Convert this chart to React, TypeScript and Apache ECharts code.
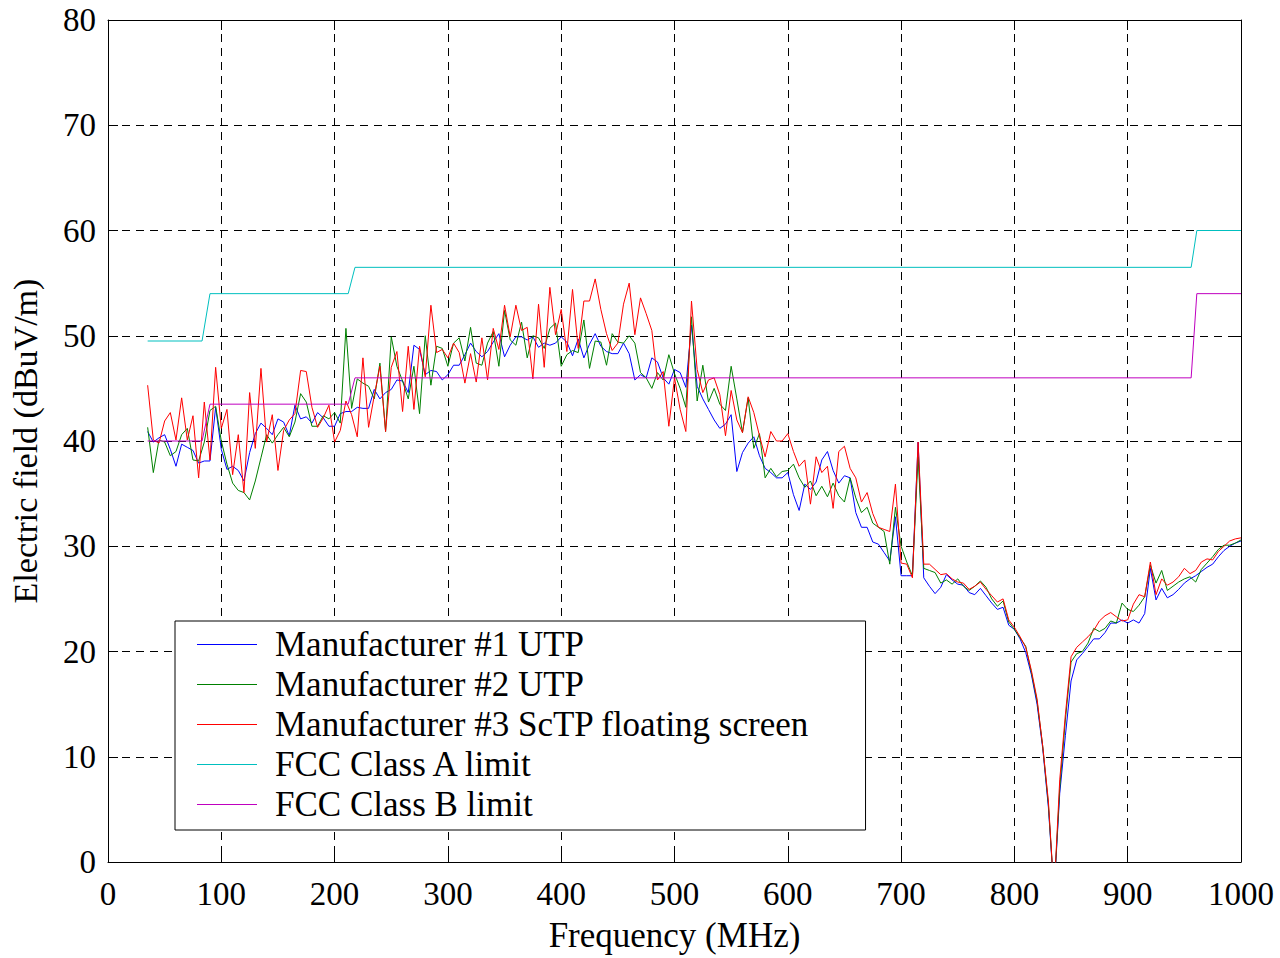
import React, { useEffect, useRef } from "react";
import * as echarts from "echarts";

// Frequency samples (MHz)
const FREQ = [
  35, 40, 45, 50,
  55, 60, 65, 70, 75, 80, 85, 90, 95, 100,
  105, 110, 115, 120, 125, 130, 135, 140, 145, 150,
  155, 160, 165, 170, 175, 180, 185, 190, 195, 200,
  205, 210, 215, 220, 225, 230, 235, 240, 245, 250,
  255, 260, 265, 270, 275, 280, 285, 290, 295, 300,
  305, 310, 315, 320, 325, 330, 335, 340, 345, 350,
  355, 360, 365, 370, 375, 380, 385, 390, 395, 400,
  405, 410, 415, 420, 425, 430, 435, 440, 445, 450,
  455, 460, 465, 470, 475, 480, 485, 490, 495, 500,
  505, 510, 515, 520, 525, 530, 535, 540, 545, 550,
  555, 560, 565, 570, 575, 580, 585, 590, 595, 600,
  605, 610, 615, 620, 625, 630, 635, 640, 645, 650,
  655, 660, 665, 670, 675, 680, 685, 690, 695, 700,
  705, 710, 715, 720, 725, 730, 735, 740, 745, 750,
  755, 760, 765, 770, 775, 780, 785, 790, 795, 800,
  805, 810, 815, 820, 825, 830, 835, 840, 845, 850,
  855, 860, 865, 870, 875, 880, 885, 890, 895, 900,
  905, 910, 915, 920, 925, 930, 935, 940, 945, 950,
  955, 960, 965, 970, 975, 980, 985, 990, 995, 1000,
];

const MFR1_UTP = [
  40.9, 39.9, 40.3, 40.6,
  39.2, 37.6, 39.7, 39.4, 39.1, 37.9, 38.1, 38.1, 43.2, 39.2,
  37.3, 37.6, 37.2, 36.2, 38.9, 40.7, 41.7, 41.2, 40.6, 42.1,
  41.8, 40.5, 43.4, 42.1, 42.3, 41.7, 42.7, 42.2, 41.4, 41.4,
  42.6, 42.8, 42.8, 43.2, 43.1, 43.1, 44.9, 44.0, 44.6, 44.9,
  45.8, 45.7, 44.6, 49.1, 48.7, 46.3, 46.7, 46.6, 45.8, 46.3,
  47.2, 47.2, 48.2, 49.3, 48.5, 48.0, 48.5, 49.4, 50.2, 48.0,
  49.1, 49.9, 49.9, 49.6, 49.9, 48.9, 49.3, 49.1, 49.3, 49.9,
  49.4, 48.1, 49.7, 47.9, 49.2, 50.2, 49.0, 48.5, 48.3, 48.3,
  49.3, 48.3, 45.8, 46.3, 46.0, 47.9, 47.5, 46.0, 45.4, 46.8,
  46.5, 45.1, 51.0, 45.2, 44.0, 43.0, 42.0, 41.2, 41.6, 42.5,
  37.1, 38.9, 39.8, 40.4, 38.6, 37.4, 37.0, 36.5, 36.5, 37.0,
  34.9, 33.4, 35.9, 35.4, 36.1, 38.2, 39.0, 37.2, 36.0, 36.7,
  36.5, 33.2, 31.8, 31.8, 30.4, 30.2, 29.4, 28.6, 32.8, 27.2,
  27.2, 27.2, 39.9, 27.0, 26.2, 25.5, 26.1, 27.3, 26.8, 26.4,
  26.3, 25.6, 25.4, 26.0, 25.3, 24.6, 24.0, 24.2, 22.5, 22.1,
  21.2, 19.9, 17.8, 15.0, 10.8, 5.2, -3, 6.5, 12.0, 17.2,
  19.2, 19.8, 20.5, 21.2, 21.2, 21.8, 22.7, 22.7, 23.0, 22.7,
  23.0, 22.7, 23.6, 27.9, 24.9, 26.0, 25.1, 25.4, 25.9, 26.5,
  26.9, 27.2, 27.6, 28.0, 28.3, 29.0, 29.6, 30.0, 30.3, 30.5,
];

const MFR2_UTP = [
  41.3, 37.0, 40.1, 39.9,
  38.6, 39.0, 40.6, 41.2, 38.2, 38.1, 39.9, 42.9, 43.3, 40.0,
  37.8, 36.0, 35.3, 35.1, 34.4, 36.2, 38.4, 40.6, 39.8, 40.6,
  41.3, 40.4, 41.8, 44.5, 43.7, 41.4, 41.4, 42.4, 42.1, 42.7,
  41.7, 50.7, 43.1, 45.9, 45.5, 45.2, 44.0, 47.4, 40.9, 49.9,
  47.1, 45.7, 44.0, 47.1, 42.6, 50.0, 45.3, 49.0, 48.8, 47.1,
  49.3, 49.8, 47.6, 50.8, 47.4, 47.2, 49.3, 50.4, 47.1, 52.4,
  49.6, 49.1, 51.3, 47.9, 50.0, 49.8, 48.8, 50.7, 51.2, 47.1,
  48.2, 48.6, 48.4, 51.5, 46.9, 49.5, 49.4, 47.2, 50.2, 49.4,
  49.3, 50.0, 49.3, 46.5, 46.0, 45.0, 46.5, 45.8, 48.2, 46.4,
  45.0, 43.2, 51.8, 43.8, 47.2, 43.7, 45.0, 43.5, 42.9, 47.1,
  44.0, 40.8, 44.1, 39.3, 40.7, 36.5, 37.4, 36.6, 37.1, 37.2,
  37.8, 36.5, 35.6, 36.2, 34.8, 35.7, 34.7, 36.0, 34.8, 34.2,
  36.5, 34.6, 33.2, 33.7, 32.2, 31.8, 31.4, 28.3, 33.7, 30.0,
  28.5, 27.2, 38.5, 27.9, 27.7, 27.5, 26.5, 26.8, 26.4, 26.9,
  26.2, 25.8, 26.2, 26.7, 26.1, 25.0, 24.3, 24.8, 22.8, 22.1,
  21.3, 20.5, 18.0, 15.3, 11.0, 5.5, -3, 7.0, 13.5, 19.0,
  19.8, 20.0, 20.8, 22.2, 21.9, 22.2, 22.9, 22.7, 24.6, 24.0,
  23.8, 24.4, 25.2, 28.2, 26.5, 27.7, 25.8, 26.2, 26.6, 26.9,
  27.1, 26.6, 27.8, 28.4, 29.0, 29.7, 30.1, 30.1, 30.3, 30.6,
];

const MFR3_SCTP = [
  45.3, 40.1, 39.8, 41.9,
  42.7, 40.1, 44.1, 40.1, 42.4, 36.5, 43.7, 38.2, 47.0, 41.2,
  43.0, 36.8, 40.6, 35.1, 44.6, 39.3, 46.9, 39.9, 42.5, 37.2,
  41.0, 42.0, 42.6, 46.7, 46.6, 43.2, 41.3, 42.2, 43.4, 39.9,
  41.0, 43.8, 42.5, 40.4, 47.9, 41.3, 44.3, 47.1, 40.9, 47.0,
  48.5, 42.8, 49.0, 43.0, 49.0, 46.1, 52.9, 48.4, 48.7, 47.9,
  49.3, 48.4, 45.5, 48.3, 45.6, 49.8, 45.8, 50.7, 48.7, 52.9,
  49.9, 52.9, 50.5, 50.8, 45.9, 53.0, 47.0, 54.6, 50.1, 52.5,
  48.5, 54.4, 48.8, 53.3, 53.3, 55.4, 52.5, 50.2, 48.6, 49.3,
  53.0, 55.0, 50.1, 53.6, 52.1, 50.5, 45.8, 46.6, 41.4, 46.0,
  43.0, 40.9, 53.3, 46.8, 44.6, 45.8, 46.0, 44.4, 40.5, 44.8,
  42.0, 40.8, 44.2, 42.7, 40.5, 38.5, 40.9, 40.0, 40.0, 40.7,
  39.0, 37.6, 38.2, 34.0, 38.5, 37.0, 37.6, 33.6, 39.0, 39.5,
  37.4, 36.5, 34.2, 35.1, 33.1, 31.8, 31.6, 31.4, 35.9, 28.4,
  28.3, 27.0, 39.9, 28.3, 28.3, 27.8, 27.3, 27.4, 26.9, 26.6,
  26.5, 25.9, 26.2, 26.6, 25.9, 25.3, 24.7, 25.0, 23.0, 22.3,
  21.4, 20.4, 18.2, 15.5, 11.0, 5.8, -3, 7.8, 14.0, 19.5,
  20.4, 20.9, 21.4, 22.0, 22.9, 23.4, 23.7, 23.3, 22.9, 23.0,
  24.5, 25.4, 25.2, 28.5, 25.4, 26.9, 26.3, 26.6, 27.1, 27.9,
  27.4, 27.7, 28.5, 28.8, 28.7, 29.5, 30.0, 30.5, 30.7, 30.8,
];

const LIMIT_FREQ = [35, 83, 90, 212, 218, 956, 961, 1000];
const CLASS_A = [49.5, 49.5, 54, 54, 56.5, 56.5, 60, 60];
const CLASS_B = [40, 40, 43.5, 43.5, 46, 46, 54, 54];

const NAMES = [
  "Manufacturer #1 UTP",
  "Manufacturer #2 UTP",
  "Manufacturer #3 ScTP floating screen",
  "FCC Class A limit",
  "FCC Class B limit",
];
const COLORS = ["#0000ff", "#008000", "#ff0000", "#00bfbf", "#bf00bf"];

const FONT = "'Liberation Serif', 'Times New Roman', serif";

function pairs(xs: number[], ys: number[]) {
  return xs.map((x, i) => [x, ys[i]]);
}

export default function App() {
  const ref = useRef<HTMLDivElement>(null);

  useEffect(() => {
    if (!ref.current) return;
    const chart = echarts.init(ref.current, undefined, { renderer: "svg" });

    const axisLine = { show: true, onZero: false, lineStyle: { color: "#000", width: 1 } };
    const axisTick = { show: true, inside: true, length: 10, lineStyle: { color: "#000", width: 1 } };
    const split = { show: true, lineStyle: { color: "#000", width: 1, type: [8, 6] as any } };
    const plain = (v: number) => String(v);

    const datasets = [MFR1_UTP, MFR2_UTP, MFR3_SCTP];

    const series: any[] = datasets.map((d, i) => ({
      type: "line",
      name: NAMES[i],
      data: pairs(FREQ, d),
      symbol: "none",
      clip: true,
      lineStyle: { color: COLORS[i], width: 1 },
      itemStyle: { color: COLORS[i] },
    }));
    series.push({
      type: "line",
      name: NAMES[3],
      data: pairs(LIMIT_FREQ, CLASS_A),
      symbol: "none",
      lineStyle: { color: COLORS[3], width: 1 },
      itemStyle: { color: COLORS[3] },
    });
    series.push({
      type: "line",
      name: NAMES[4],
      data: pairs(LIMIT_FREQ, CLASS_B),
      symbol: "none",
      lineStyle: { color: COLORS[4], width: 1 },
      itemStyle: { color: COLORS[4] },
    });

    chart.setOption({
      animation: false,
      backgroundColor: "#fff",
      grid: { left: 107, right: 39, top: 20, bottom: 89, containLabel: false },
      legend: {
        show: true,
        orient: "vertical",
        left: 175,
        top: 621,
        icon: "rect",
        itemWidth: 60,
        itemHeight: 1,
        itemGap: 5,
        padding: [6, 56, 8, 22],
        borderColor: "#000",
        borderWidth: 1,
        backgroundColor: "#fff",
        selectedMode: false,
        textStyle: { fontFamily: FONT, fontSize: 35, color: "#000", padding: [0, 0, 0, 13] },
        data: NAMES,
      },
      xAxis: [
        {
          type: "value",
          min: 0,
          max: 1000,
          interval: 100,
          position: "bottom",
          axisLine,
          axisTick,
          splitLine: split,
          axisLabel: { color: "#000", fontSize: 33, fontFamily: FONT, margin: 15, formatter: plain },
          name: "Frequency (MHz)",
          nameLocation: "middle",
          nameGap: 56,
          nameTextStyle: { color: "#000", fontSize: 35, fontFamily: FONT },
        },
        {
          type: "value",
          min: 0,
          max: 1000,
          interval: 100,
          position: "top",
          axisLine,
          axisTick,
          splitLine: { show: false },
          axisLabel: { show: false },
        },
      ],
      yAxis: [
        {
          type: "value",
          min: 0,
          max: 80,
          interval: 10,
          position: "left",
          axisLine,
          axisTick,
          splitLine: split,
          axisLabel: { color: "#000", fontSize: 33, fontFamily: FONT, margin: 12, formatter: plain },
          name: "Electric field (dBuV/m)",
          nameLocation: "middle",
          nameGap: 66,
          nameTextStyle: { color: "#000", fontSize: 34, fontFamily: FONT },
        },
        {
          type: "value",
          min: 0,
          max: 80,
          interval: 10,
          position: "right",
          axisLine,
          axisTick,
          splitLine: { show: false },
          axisLabel: { show: false },
        },
      ],
      series,
    });

    return () => chart.dispose();
  }, []);

  return (
    <div
      ref={ref}
      style={{ position: "absolute", left: 0, top: 0, width: 1280, height: 958 }}
    />
  );
}
